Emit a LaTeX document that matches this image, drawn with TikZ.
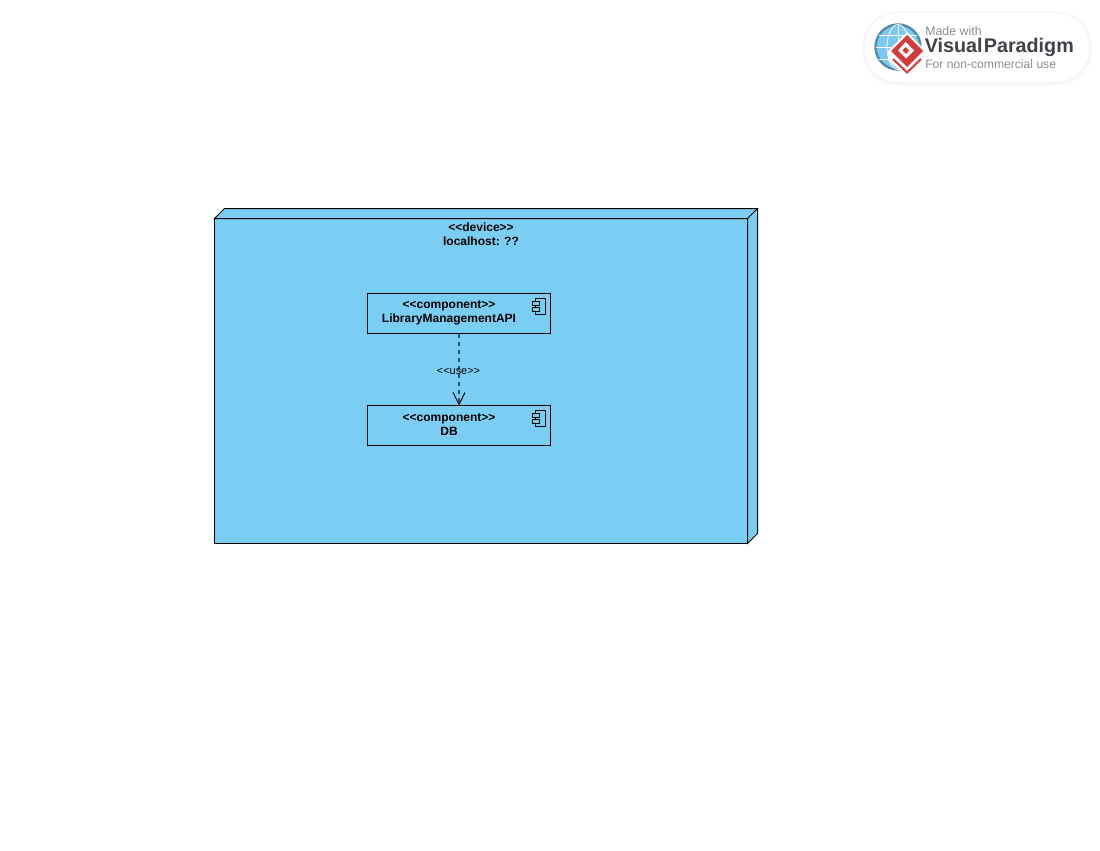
\documentclass[tikz,border=0pt]{standalone}
\usepackage{fontspec}
\setmainfont{Liberation Sans}
\usetikzlibrary{arrows.meta,calc}
\definecolor{nodeblue}{HTML}{7ACEF4}
\definecolor{globeblue}{HTML}{7CC8F4}
\definecolor{globering}{HTML}{4F8FA8}
\definecolor{logored}{HTML}{D23B3B}
\definecolor{logodark}{HTML}{3F4347}
\definecolor{logogrey}{HTML}{8A8D90}
\tikzset{
  x=0.75pt,y=-0.75pt,
  line/.style={draw=black,line width=0.75pt},
  devicebox/.style={line,fill=nodeblue,minimum width=399.75pt,minimum height=243.75pt,inner sep=0pt,outer sep=0pt,anchor=north west},
  compbox/.style={line,fill=nodeblue,minimum width=137.25pt,minimum height=30pt,inner sep=0pt,outer sep=0pt,anchor=north west},
  title/.style={font=\fontsize{9}{10.5}\selectfont\bfseries,inner sep=0pt,align=center,anchor=center},
  smalltxt/.style={font=\fontsize{8.2}{9}\selectfont,inner sep=0pt,anchor=center},
  depend/.style={draw=black!60!nodeblue,line width=1.1pt,dash pattern=on 3pt off 3pt},
  opentip/.style={-{Straight Barb[length=9pt,width=9pt,line width=0.75pt,color=black]}},
  icon/.style={line,fill=nodeblue,line width=0.75pt},
}
\begin{document}
\begin{tikzpicture}
\useasboundingbox (0,0) rectangle (1100,850);
\fill[white] (0,0) rectangle (1100,850);

% logo
\fill[black!2,rounded corners=26pt] (862,11) rectangle (1092,86);
\fill[black!4,rounded corners=26pt] (863,12) rectangle (1091,84);
\fill[white,rounded corners=25pt] (865,13) rectangle (1089,82);
\fill[globeblue] (898,47) circle[radius=22.5];
\draw[globering,line width=1.8pt] (898,47) circle[radius=22.5];
\draw[white,line width=0.6pt] (898,24.5) -- (898,69.5)
  (875.5,47) -- (920.5,47) (879,35) -- (917,35) (879,59) -- (917,59);
\draw[white,line width=0.6pt] (898,47) ellipse[x radius=11,y radius=22.5];
\fill[white] (907,32) -- (926,51) -- (926,60) -- (907,77) -- (888,60) -- (888,51) -- cycle;
\fill[logored] (907,35) -- (923,51) -- (907,67) -- (891,51) -- cycle;
\draw[logored,line width=1.5pt] (893,59) -- (907,72.5) -- (921,59);
\fill[white] (905.5,42) -- (914,50.5) -- (906,58.5) -- (898,50.5) -- cycle;
\fill[logored] (905.5,47) -- (909,50.5) -- (906,54) -- (902.5,50.5) -- cycle;
\node[font=\fontsize{9.3}{10}\selectfont,text=logogrey,inner sep=0pt,anchor=west] (logoa) at (925,31) {Made with};
\node[font=\fontsize{14.8}{17}\selectfont\bfseries,text=logodark,inner sep=0pt,anchor=west] (logob) at (924.5,47.5) {Visual\hspace{1pt}Paradigm};
\node[font=\fontsize{9.1}{10}\selectfont,text=logogrey,inner sep=0pt,anchor=west] (logoc) at (925,64) {For non-commercial use};

% device node
\node[devicebox] (device) at (214.5,218.5) {};
\draw[line,fill=nodeblue,line join=miter] (device.north west) -- ++(10,-10) -- ++(533,0) -- ++(0,325) -- (device.south east) -- (device.north east) -- cycle;
\draw[line] (device.north east) -- ++(10,-10);
\node[title] (devtitle) at (481,234) {<{}<device>{}>\\localhost: ??};

% components
\node[compbox] (api) at (367.5,293.5) {};
\node[compbox] (db) at (367.5,405.5) {};
\node[title] (apititle) at (449,313) {<{}<component>{}>\\LibraryManagementAPI};
\node[title] (dbtitle) at (449,425) {<{}<component>{}>\\DB};

% component icons
\foreach \b/\o in {api/0,db/112}{
  \draw[icon] (535.5,298.5+\o) rectangle (545.5,314.5+\o);
  \draw[icon] (532.5,301.5+\o) rectangle (539.5,305.5+\o);
  \draw[icon] (532.5,307.5+\o) rectangle (539.5,311.5+\o);
}

% dependency
\draw[depend,opentip] (api.south) -- (db.north);
\node[smalltxt] (uselabel) at (458.5,371) {<{}<use>{}>};
\end{tikzpicture}
\end{document}
